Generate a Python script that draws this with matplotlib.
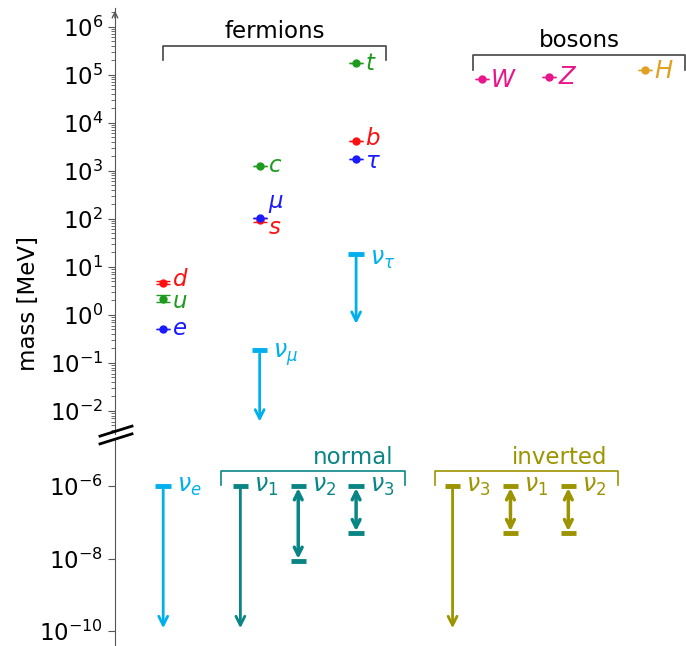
import numpy as np
import matplotlib
matplotlib.use("Agg")
import matplotlib.pyplot as plt

# particle masses in MeV (value, lower err, upper err)
quark_names = ["u", "d", "s", "c", "b", "t"]
quark_x = [1, 1, 2, 2, 3, 3]
quark_mass = [2.16, 4.67, 93.0, 1270.0, 4180.0, 172760.0]
quark_lo = [0.26, 0.17, 5.0, 20.0, 20.0, 300.0]
quark_hi = [0.49, 0.48, 11.0, 20.0, 30.0, 300.0]

lepton_names = ["e", r"\mu", r"\tau"]
lepton_x = [1, 2, 3]
lepton_mass = [0.511, 105.66, 1776.86]
lepton_err = [0.0, 0.0, 0.12]

boson_names = ["W", "Z", "H"]
boson_x = [4.3, 5.0, 6.0]
boson_mass = [80379.0, 91187.6, 125100.0]
boson_err = [12.0, 2.1, 140.0]

# neutrino upper limits (MeV)
nu_names = [r"\nu_\mu", r"\nu_\tau"]
nu_x = [2, 3]
nu_upper = [0.19, 18.2]
nu_lower = [0.006, 0.65]

nue_x = 1
nue_upper = 1e-6
nue_lower = 1.2e-10

normal_names = [r"\nu_1", r"\nu_2", r"\nu_3"]
normal_x = [1.8, 2.4, 3.0]
normal_upper = [1e-6, 1e-6, 1e-6]
normal_lower = [1.2e-10, 8.6e-9, 5e-8]

inverted_names = [r"\nu_3", r"\nu_1", r"\nu_2"]
inverted_x = [4.0, 4.6, 5.2]
inverted_upper = [1e-6, 1e-6, 1e-6]
inverted_lower = [1.2e-10, 5e-8, 5e-8]

quark_colors = ["#1e9b1e", "#ff1010", "#ff1010", "#1e9b1e", "#ff1010", "#1e9b1e"]
c_lep = "#1a1aff"
boson_colors = ["#e8168c", "#e8168c", "#e0a020"]
c_nu = "#00b0ec"
c_norm = "#0a8585"
c_inv = "#9c9400"
c_axis = "#555555"

fs = 16.5
lfs = 15.5
plt.rcParams["mathtext.fontset"] = "dejavusans"

fig = plt.figure(figsize=(6.86, 6.46), dpi=100)
ax1 = fig.add_axes([0.1676, 1 - 434 / 646, 1 - 0.1676, 426 / 646])
ax2 = fig.add_axes([0.1676, 0.0, 1 - 0.1676, 206 / 646])

for ax in (ax1, ax2):
    ax.set_yscale("log")
    ax.set_xlim(0.5, 6.42)
    for s in ["top", "right", "bottom"]:
        ax.spines[s].set_visible(False)
    ax.spines["left"].set_color(c_axis)
    ax.set_xticks([])
    ax.tick_params(axis="y", which="major", length=5, color=c_axis, labelsize=fs)
    ax.tick_params(axis="y", which="minor", length=3, color=c_axis)
    ax.patch.set_alpha(0)

ax1.set_ylim(10 ** -2.48, 10 ** 6.39)
ax1.set_yticks([10.0 ** k for k in range(-2, 7)])
ax2.set_ylim(10 ** -10.41, 10 ** -4.73)
ax2.set_yticks([1e-6, 1e-8, 1e-10])
ax2.minorticks_off()

# arrow at top of axis
ax1.annotate("", xy=(0, 1.0), xytext=(0, 0.97), xycoords="axes fraction",
             arrowprops=dict(arrowstyle="->", color=c_axis, lw=1))

# axis break marks
for dy in (-0.006, 0.006):
    fig.add_artist(plt.Line2D([100 / 686, 132 / 686],
                              [1 - (440 + dy * 646) / 646, 1 - (430 + dy * 646) / 646],
                              color="black", lw=2))

fig.text(0.042, 0.53, "mass [MeV]", rotation=90, va="center", ha="center", fontsize=fs)

# charged fermions and bosons
for name, x, m, lo, hi, c in zip(quark_names, quark_x, quark_mass, quark_lo, quark_hi, quark_colors):
    ax1.errorbar(x, m, yerr=[[lo], [hi]], fmt="o", ms=5, color=c, capsize=5, elinewidth=1.5)
for name, x, m, e in zip(lepton_names, lepton_x, lepton_mass, lepton_err):
    ax1.errorbar(x, m, yerr=e, fmt="o", ms=5, color=c_lep, capsize=5, elinewidth=1.5)
for name, x, m, e, c in zip(boson_names, boson_x, boson_mass, boson_err, boson_colors):
    ax1.errorbar(x, m, yerr=e, fmt="o", ms=5, color=c, capsize=5, elinewidth=1.5)

label_off = {"\\mu": 2.0, "s": 0.72, "d": 1.15, "u": 0.88, "b": 1.12, "\\tau": 0.9}
for name, x, m, c in zip(quark_names, quark_x, quark_mass, quark_colors):
    ax1.text(x + 0.09, m * label_off.get(name, 1.0), "$" + name + "$", color=c,
             fontsize=lfs + 1, va="center", ha="left")
for name, x, m in zip(lepton_names, lepton_x, lepton_mass):
    ax1.text(x + 0.09, m * label_off.get(name, 1.0), "$" + name + "$", color=c_lep,
             fontsize=lfs + 1, va="center", ha="left")
for name, x, m, c in zip(boson_names, boson_x, boson_mass, boson_colors):
    ax1.text(x + 0.09, m * 0.98, "$" + name + "$", color=c,
             fontsize=lfs + 2, va="center", ha="left")


def limit(ax, x, hi, lo, c, both=False, lab=None, dy=1.0):
    ax.plot([x - 0.08, x + 0.08], [hi, hi], color=c, lw=3.5, solid_capstyle="butt")
    if both:
        ax.plot([x - 0.08, x + 0.08], [lo, lo], color=c, lw=3.5, solid_capstyle="butt")
        ax.annotate("", xy=(x, lo), xytext=(x, hi),
                    arrowprops=dict(arrowstyle="<->", color=c, lw=2.5,
                                    shrinkA=1.5, shrinkB=1.5, mutation_scale=14))
    else:
        ax.annotate("", xy=(x, lo), xytext=(x, hi),
                    arrowprops=dict(arrowstyle="->", color=c, lw=2,
                                    shrinkA=0, shrinkB=0, mutation_scale=16))
    if lab:
        ax.text(x + 0.14, hi * dy, "$" + lab + "$", color=c, fontsize=lfs + 1.5,
                va="center", ha="left")


for name, x, hi, lo in zip(nu_names, nu_x, nu_upper, nu_lower):
    limit(ax1, x, hi, lo, c_nu, lab=name, dy=0.8)
limit(ax2, nue_x, nue_upper, nue_lower, c_nu, lab=r"\nu_e")
for name, x, hi, lo in zip(normal_names, normal_x, normal_upper, normal_lower):
    limit(ax2, x, hi, lo, c_norm, both=(lo > 1e-9), lab=name)
for name, x, hi, lo in zip(inverted_names, inverted_x, inverted_upper, inverted_lower):
    limit(ax2, x, hi, lo, c_inv, both=(lo > 1e-9), lab=name)


def bracket(ax, x0, x1, y, ytick, text, c, tc, ha="center"):
    ax.plot([x0, x0, x1, x1], [ytick, y, y, ytick], color=c, lw=1.2, clip_on=False)
    tx = (x0 + x1) / 2 if ha == "center" else x1 - 0.12
    ax.text(tx, y * 1.15, text, color=tc, fontsize=fs, ha=ha, va="bottom")


bracket(ax1, 1.0, 3.31, 4.0e5, 2.0e5, "fermions", "#444444", "black")
bracket(ax1, 4.21, 6.41, 2.6e5, 1.25e5, "bosons", "#444444", "black")
bracket(ax2, 1.6, 3.51, 10 ** -5.59, 10 ** -5.98, "normal", c_norm, c_norm, ha="right")
bracket(ax2, 3.82, 5.72, 10 ** -5.59, 10 ** -5.98, "inverted", c_inv, c_inv, ha="right")

fig.savefig("out.png", dpi=100)
